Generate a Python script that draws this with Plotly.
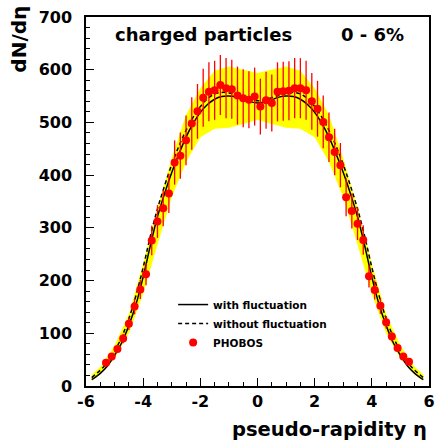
import plotly.graph_objects as go

# PHOBOS data (0-6%)
eta_data = [-5.3, -5.1, -4.9, -4.7, -4.5, -4.3, -4.1, -3.9, -3.7, -3.5, -3.3, -3.1, -2.9, -2.7,
            -2.5, -2.3, -2.1, -1.9, -1.7, -1.5, -1.3, -1.1, -0.9, -0.7, -0.5, -0.3, -0.1,
            0.1, 0.3, 0.5, 0.7, 0.9, 1.1, 1.3, 1.5, 1.7, 1.9, 2.1, 2.3, 2.5, 2.7,
            2.9, 3.1, 3.3, 3.5, 3.7, 3.9, 4.1, 4.3, 4.5, 4.7, 4.9, 5.1, 5.3]
dndeta_data = [44, 56, 70, 90, 118, 151, 183, 212, 276, 312, 337, 365, 424, 437,
               466, 498, 521, 547, 558, 561, 571, 565, 563, 551, 546, 543, 549,
               530, 542, 537, 558, 559, 560, 565, 565, 561, 540, 526, 501, 472, 444,
               419, 358, 332, 308, 277, 208, 182, 152, 121, 94, 72, 56, 46]
err_data = [5, 6, 7, 9, 12, 15, 18, 21, 28, 31, 34, 37, 42, 44,
            47, 50, 52, 55, 56, 56, 57, 57, 56, 55, 55, 54, 55,
            53, 54, 54, 56, 56, 56, 57, 57, 56, 54, 53, 50, 47, 44,
            42, 36, 33, 31, 28, 21, 18, 15, 12, 9, 7, 6, 5]

# model curves
eta_curve = [-5.8, -5.5, -5.25, -5.0, -4.75, -4.5, -4.25, -4.0, -3.75, -3.5, -3.25, -3.0, -2.75,
             -2.5, -2.25, -2.0, -1.75, -1.5, -1.25, -1.0, -0.75, -0.5, -0.25, 0.0,
             0.25, 0.5, 0.75, 1.0, 1.25, 1.5, 1.75, 2.0, 2.25, 2.5, 2.75, 3.0, 3.25,
             3.5, 3.75, 4.0, 4.25, 4.5, 4.75, 5.0, 5.25, 5.5, 5.8]
with_fluct = [12, 24, 38, 58, 82, 115, 155, 207, 266, 321, 365, 405, 440,
              472, 498, 519, 534, 544, 549, 550, 548, 543, 539, 537,
              539, 543, 548, 550, 549, 544, 534, 519, 498, 472, 440, 405, 365,
              321, 266, 207, 155, 115, 82, 58, 38, 24, 12]
without_fluct = [16, 30, 45, 66, 93, 128, 172, 225, 284, 336, 380, 420, 455,
                 485, 510, 530, 545, 554, 557, 556, 552, 547, 543, 541,
                 543, 547, 552, 556, 557, 554, 545, 530, 510, 485, 455, 420, 380,
                 336, 284, 225, 172, 128, 93, 66, 45, 30, 16]

# uncertainty band
eta_band = [-5.8, -5.5, -5.0, -4.5, -4.0, -3.5, -3.0, -2.5, -2.0, -1.5, -1.0, -0.5, 0.0,
            0.5, 1.0, 1.5, 2.0, 2.5, 3.0, 3.5, 4.0, 4.5, 5.0, 5.5, 5.8]
band_upper = [22, 36, 77, 136, 232, 337, 432, 514, 565, 598, 606, 600, 594,
              600, 606, 598, 565, 514, 432, 337, 232, 136, 77, 36, 22]
band_lower = [10, 22, 52, 100, 175, 268, 358, 425, 472, 488, 490, 497, 505,
              497, 490, 488, 472, 425, 358, 268, 175, 100, 52, 22, 10]

x_ticks = [-6, -4, -2, 0, 2, 4, 6]
y_ticks = [0, 100, 200, 300, 400, 500, 600, 700]

FONT = "DejaVu Sans"

fig = go.Figure()

fig.add_trace(go.Scatter(
    x=eta_band + eta_band[::-1], y=band_upper + band_lower[::-1],
    fill="toself", fillcolor="#ffff00", mode="none",
    line=dict(width=0), showlegend=False, hoverinfo="skip"))

fig.add_trace(go.Scatter(
    x=eta_curve, y=with_fluct, mode="lines", name="with fluctuation",
    line=dict(color="black", width=1.5, shape="spline")))
fig.add_trace(go.Scatter(
    x=eta_curve, y=without_fluct, mode="lines", name="without fluctuation",
    line=dict(color="black", width=1.5, dash="4px,3px", shape="spline")))

fig.add_trace(go.Scatter(
    x=eta_data, y=dndeta_data, mode="markers", name="PHOBOS",
    marker=dict(color="#ff0000", size=8, symbol="circle"),
    error_y=dict(type="data", array=err_data, visible=True, color="#ff0000",
                 thickness=1.3, width=0)))

axis_common = dict(showline=True, linecolor="black", linewidth=1.5, mirror=True,
                   ticks="inside", tickcolor="black", ticklen=8, tickwidth=1.2,
                   showgrid=False, zeroline=False, ticklabeloverflow="allow",
                   automargin=False,
                   tickfont=dict(family=FONT, size=16, color="black", weight="bold"))

fig.update_xaxes(range=[-6, 6], tickvals=x_ticks, ticktext=[str(v) for v in x_ticks],
                 minor=dict(dtick=0.5, ticks="inside", ticklen=4, tickcolor="black", tickwidth=1),
                 ticklabelstandoff=0, **axis_common)
fig.update_yaxes(range=[0, 700], tickvals=y_ticks, ticktext=[str(v) for v in y_ticks],
                 minor=dict(dtick=20, ticks="inside", ticklen=4, tickcolor="black", tickwidth=1),
                 ticklabelstandoff=9, **axis_common)

fig.update_layout(
    width=435, height=441,
    margin=dict(l=86, r=6, t=17, b=55),
    paper_bgcolor="white", plot_bgcolor="white",
    showlegend=True,
    legend=dict(x=0.254, y=0.26, xanchor="left", yanchor="top",
                bgcolor="rgba(0,0,0,0)", borderwidth=0,
                font=dict(family=FONT, size=10.5, color="black", weight="bold"),
                itemwidth=30, tracegroupgap=0),
    annotations=[
        dict(text="charged particles", x=-5.06, y=666, xref="x", yref="y",
             xanchor="left", yanchor="middle", showarrow=False,
             font=dict(family=FONT, size=18, color="black", weight="bold")),
        dict(text="0 - 6%", x=5.21, y=666, xref="x", yref="y",
             xanchor="right", yanchor="middle", showarrow=False,
             font=dict(family=FONT, size=18, color="black", weight="bold")),
        dict(text="pseudo-rapidity η", x=1.0, y=-0.117, xref="paper", yref="paper",
             xanchor="right", yanchor="middle", showarrow=False,
             font=dict(family=FONT, size=19.5, color="black", weight="bold")),
        dict(text="dN/dη", x=-0.198, y=1.035, xref="paper", yref="paper",
             xanchor="center", yanchor="top", textangle=-90, showarrow=False,
             font=dict(family=FONT, size=20, color="black", weight="bold")),
    ],
)

fig.write_html("out.html", config={"displayModeBar": False},
               post_script="document.body.style.margin='0';document.body.style.padding='0';"
                           "document.body.style.overflow='hidden';")
